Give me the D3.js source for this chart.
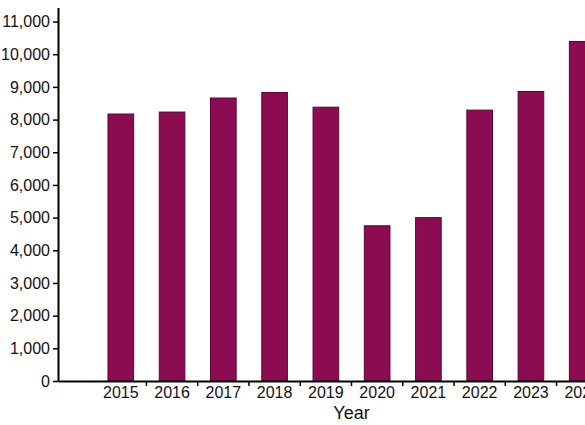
<!DOCTYPE html>
<html>
<head>
<meta charset="utf-8">
<script src="https://cdn.jsdelivr.net/npm/d3@7"></script>
<style>
  html, body { margin: 0; padding: 0; background: #fff; overflow: hidden; }
  svg { display: block; font-family: "Liberation Sans", Arial, sans-serif; }
</style>
</head>
<body>
<svg id="chart" width="660" height="425"></svg>
<script>
// values
var years = ["2015", "2016", "2017", "2018", "2019", "2020", "2021", "2022", "2023", "2024"];
var counts = [8170, 8230, 8660, 8830, 8380, 4750, 5000, 8290, 8860, 10390];
var yTicks = [0, 1000, 2000, 3000, 4000, 5000, 6000, 7000, 8000, 9000, 10000, 11000];

var svg = d3.select("#chart");

// plot edges (right edge runs past the window, as in the source)
var plot = {left: 58, right: 645, top: 7.5, bottom: 381};

var x = d3.scaleBand()
    .domain(years)
    .range([plot.left, plot.right])
    .paddingInner(0.5)
    .paddingOuter(0.975);

var y = d3.scaleLinear()
    .domain([0, 11430])
    .range([plot.bottom, plot.top]);

// bars
svg.append("g").selectAll("rect")
    .data(years)
  .enter().append("rect")
    .attr("x", function(d) { return x(d); })
    .attr("y", function(d, i) { return y(counts[i]); })
    .attr("width", x.bandwidth())
    .attr("height", function(d, i) { return plot.bottom - y(counts[i]); })
    .attr("fill", "#8c0c52")
    .attr("stroke", "#5a0634")
    .attr("stroke-width", 1);

// y axis
var yAxis = svg.append("g")
    .attr("transform", "translate(" + plot.left + ",0)")
    .call(d3.axisLeft(y).tickValues(yTicks).tickFormat(d3.format(",")).tickSize(5).tickSizeOuter(0).tickPadding(3));
yAxis.select(".domain").attr("stroke", "#000").attr("stroke-width", 2);
yAxis.selectAll(".tick line").attr("stroke", "#000").attr("stroke-width", 1.5);
yAxis.selectAll("text").attr("font-size", 16).attr("fill", "#111").attr("font-family", "Liberation Sans, Arial, sans-serif");

// x axis, labels centred under bars, ticks between bands
var xAxis = svg.append("g")
    .attr("transform", "translate(0," + plot.bottom + ")")
    .call(d3.axisBottom(x).tickSize(0).tickSizeOuter(0).tickPadding(6));
xAxis.select(".domain").attr("stroke", "#000").attr("stroke-width", 2);
xAxis.selectAll("text").attr("font-size", 16).attr("fill", "#111").attr("font-family", "Liberation Sans, Arial, sans-serif");

var gap = x.step() - x.bandwidth();
xAxis.selectAll(".sep")
    .data(years.slice(1))
  .enter().append("line")
    .attr("class", "sep")
    .attr("x1", function(d) { return x(d) - gap / 2; })
    .attr("x2", function(d) { return x(d) - gap / 2; })
    .attr("y1", 0)
    .attr("y2", 5)
    .attr("stroke", "#000")
    .attr("stroke-width", 1.5);

svg.append("text")
    .attr("x", (plot.left + plot.right) / 2)
    .attr("y", 419)
    .attr("text-anchor", "middle")
    .attr("font-size", 18)
    .attr("fill", "#111")
    .text("Year");
</script>
</body>
</html>
